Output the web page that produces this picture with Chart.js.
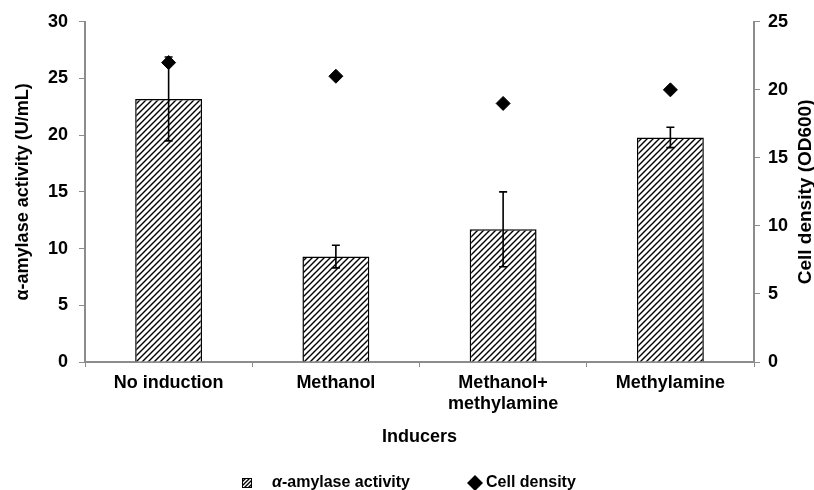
<!DOCTYPE html>
<html>
<head>
<meta charset="utf-8">
<script src="https://cdn.jsdelivr.net/npm/chart.js@4.4.1/dist/chart.umd.min.js"></script>
<style>
  html, body { margin: 0; padding: 0; background: #fff; }
  #wrap { width: 814px; height: 490px; }
</style>
</head>
<body>
<div id="wrap"><canvas id="chart" width="814" height="490"></canvas></div>
<script>
const categories = ['No induction', 'Methanol', ['Methanol+', 'methylamine'], 'Methylamine'];
const amylase = [23.2, 9.3, 11.7, 19.8];
const amylaseErr = [3.7, 1.0, 3.3, 0.9];
const cellDensity = [22, 21, 19, 20];

const FONT = 'Liberation Sans, Arial, sans-serif';
const AXIS_GREY = '#8c8c8c';

// diagonal hatch fill for the bars
function makeHatch(ctxSize) {
    const size = ctxSize || 6;
    const c = document.createElement('canvas');
    c.width = size; c.height = size;
    const g = c.getContext('2d');
    g.fillStyle = '#fff';
    g.fillRect(0, 0, size, size);
    g.strokeStyle = '#000';
    g.lineWidth = 1.4;
    g.beginPath();
    g.moveTo(-1, size + 1); g.lineTo(size + 1, -1);
    g.moveTo(-1, 1); g.lineTo(1, -1);
    g.moveTo(size - 1, size + 1); g.lineTo(size + 1, size - 1);
    g.stroke();
    return g.createPattern(c, 'repeat');
}
const hatch = makeHatch(6);

const errorBars = {
    id: 'errorBars',
    afterDatasetDraw(chart, args) {
        if (args.index !== 0) return;
        const ctx = chart.ctx;
        const y = chart.scales.y;
        const meta = chart.getDatasetMeta(0);
        ctx.save();
        ctx.strokeStyle = '#000';
        ctx.lineWidth = 1.6;
        meta.data.forEach((bar, i) => {
            const x = bar.x;
            const top = y.getPixelForValue(amylase[i] + amylaseErr[i]);
            const bot = y.getPixelForValue(amylase[i] - amylaseErr[i]);
            ctx.beginPath();
            ctx.moveTo(x, top); ctx.lineTo(x, bot);
            ctx.moveTo(x - 4, top); ctx.lineTo(x + 4, top);
            ctx.moveTo(x - 4, bot); ctx.lineTo(x + 4, bot);
            ctx.stroke();
        });
        ctx.restore();
    }
};

// right axis title (reads bottom to top) and the legend
const extras = {
    id: 'extras',
    afterDraw(chart) {
        const ctx = chart.ctx;
        const area = chart.chartArea;
        ctx.save();
        ctx.translate(806, (area.top + area.bottom) / 2);
        ctx.rotate(-Math.PI / 2);
        ctx.font = 'bold 19px ' + FONT;
        ctx.fillStyle = '#000';
        ctx.textAlign = 'center';
        ctx.textBaseline = 'middle';
        ctx.fillText('Cell density (OD600)', 0, 0);
        ctx.restore();

        // legend
        const ly = 483;
        ctx.save();
        ctx.fillStyle = makeHatch(4);
        ctx.fillRect(242, ly - 5, 10, 10);
        ctx.strokeStyle = '#000';
        ctx.lineWidth = 1;
        ctx.strokeRect(242.5, ly - 4.5, 9, 9);
        ctx.fillStyle = '#000';
        ctx.textBaseline = 'middle';
        ctx.textAlign = 'left';
        ctx.font = 'italic bold 16px ' + FONT;
        ctx.fillText('α', 272, ly);
        const aw = ctx.measureText('α').width;
        ctx.font = 'bold 16px ' + FONT;
        ctx.fillText('-amylase activity', 272 + aw, ly);

        ctx.beginPath();
        ctx.moveTo(475, ly - 8); ctx.lineTo(483, ly); ctx.lineTo(475, ly + 8); ctx.lineTo(467, ly);
        ctx.closePath();
        ctx.fill();
        ctx.fillText('Cell density', 486, ly);
        ctx.restore();
    }
};

new Chart(document.getElementById('chart'), {
    data: {
        labels: categories,
        datasets: [
            {
                type: 'bar',
                label: 'α-amylase activity',
                data: amylase,
                backgroundColor: hatch,
                borderColor: '#000',
                borderWidth: 1.5,
                barPercentage: 0.8,
                categoryPercentage: 0.5,
                yAxisID: 'y',
                order: 2
            },
            {
                type: 'line',
                label: 'Cell density',
                data: cellDensity,
                showLine: false,
                pointStyle: 'rectRot',
                pointRadius: 7,
                pointBackgroundColor: '#000',
                pointBorderColor: '#000',
                yAxisID: 'y1',
                order: 1
            }
        ]
    },
    options: {
        responsive: false,
        animation: false,
        layout: { padding: { top: 21, right: 0, left: 0, bottom: 42 } },
        plugins: {
            tooltip: { enabled: false },
            legend: { display: false }
        },
        scales: {
            x: {
                afterFit(s) { s.height = 86; },
                grid: { display: true, drawOnChartArea: false, offset: true, color: AXIS_GREY, tickLength: 5 },
                border: { color: AXIS_GREY, width: 2 },
                ticks: { color: '#000', maxRotation: 0, padding: 5, font: { family: FONT, size: 18, weight: 'bold' } },
                title: { display: true, text: 'Inducers', color: '#000', padding: { top: 0, bottom: 0 }, font: { family: FONT, size: 18, weight: 'bold' } }
            },
            y: {
                position: 'left',
                min: 0, max: 30,
                afterFit(s) { s.width = 85; },
                grid: { drawOnChartArea: false, color: AXIS_GREY, tickLength: 6 },
                border: { color: AXIS_GREY, width: 2 },
                ticks: { stepSize: 5, color: '#000', padding: 11, font: { family: FONT, size: 18, weight: 'bold' } },
                title: { display: true, text: 'α-amylase activity (U/mL)', color: '#000', padding: { top: 12, bottom: 4 }, font: { family: FONT, size: 18, weight: 'bold' } }
            },
            y1: {
                position: 'right',
                min: 0, max: 25,
                afterFit(s) { s.width = 60; },
                grid: { drawOnChartArea: false, color: AXIS_GREY, tickLength: 6 },
                border: { color: AXIS_GREY, width: 2 },
                ticks: { stepSize: 5, color: '#000', padding: 8, font: { family: FONT, size: 18, weight: 'bold' } }
            }
        }
    },
    plugins: [errorBars, extras]
});
</script>
</body>
</html>
